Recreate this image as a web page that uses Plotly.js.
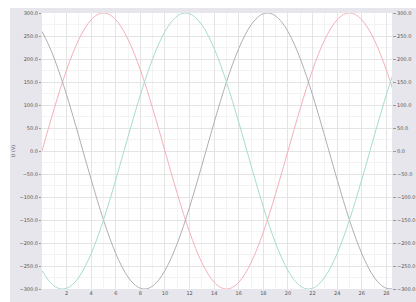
<!DOCTYPE html>
<html>
<head>
<meta charset="utf-8">
<script src="https://cdn.plot.ly/plotly-3.0.1.min.js"></script>
<style>
html,body{margin:0;padding:0;background:#ffffff;width:416px;height:302px;overflow:hidden;}
#chart{position:absolute;left:10px;top:8px;width:406px;height:294px;}
</style>
</head>
<body>
<div id="chart"></div>
<script>
// time in ms, sampled every 0.5 ms
const timeMs = [0,0.5,1,1.5,2,2.5,3,3.5,4,4.5,5,5.5,6,6.5,7,7.5,8,8.5,9,9.5,10,10.5,11,11.5,12,12.5,13,13.5,14,14.5,15,15.5,16,16.5,17,17.5,18,18.5,19,19.5,20,20.5,21,21.5,22,22.5,23,23.5,24,24.5,25,25.5,26,26.5,27,27.5,28,28.5];
const phaseA = [0,46.9,92.7,136.2,176.3,212.1,242.7,267.3,285.3,296.3,300,296.3,285.3,267.3,242.7,212.1,176.3,136.2,92.7,46.9,0,-46.9,-92.7,-136.2,-176.3,-212.1,-242.7,-267.3,-285.3,-296.3,-300,-296.3,-285.3,-267.3,-242.7,-212.1,-176.3,-136.2,-92.7,-46.9,0,46.9,92.7,136.2,176.3,212.1,242.7,267.3,285.3,296.3,300,296.3,285.3,267.3,242.7,212.1,176.3,136.2];
const phaseB = [-259.8,-280.1,-293.4,-299.6,-298.4,-289.8,-274.1,-251.6,-222.9,-188.8,-150,-107.5,-62.4,-15.7,31.4,77.6,122.0,163.4,200.7,233.1,259.8,280.1,293.4,299.6,298.4,289.8,274.1,251.6,222.9,188.8,150,107.5,62.4,15.7,-31.4,-77.6,-122.0,-163.4,-200.7,-233.1,-259.8,-280.1,-293.4,-299.6,-298.4,-289.8,-274.1,-251.6,-222.9,-188.8,-150,-107.5,-62.4,-15.7,31.4,77.6,122.0,163.4];
const phaseC = [259.8,233.1,200.7,163.4,122.0,77.6,31.4,-15.7,-62.4,-107.5,-150,-188.8,-222.9,-251.6,-274.1,-289.8,-298.4,-299.6,-293.4,-280.1,-259.8,-233.1,-200.7,-163.4,-122.0,-77.6,-31.4,15.7,62.4,107.5,150,188.8,222.9,251.6,274.1,289.8,298.4,299.6,293.4,280.1,259.8,233.1,200.7,163.4,122.0,77.6,31.4,-15.7,-62.4,-107.5,-150,-188.8,-222.9,-251.6,-274.1,-289.8,-298.4,-299.6];
const seriesNames = ['A','B','C'];
const xTickVals = [2,4,6,8,10,12,14,16,18,20,22,24,26,28];
const yTitle = 'U (V)';

const tickFont = {family:'DejaVu Sans, sans-serif', size:5, color:'#555'};

const traces = [
  {x: timeMs, y: phaseA, name: seriesNames[0], mode:'lines', line:{color:'#f4b0b8', width:1, shape:'spline'}},
  {x: timeMs, y: phaseC, name: seriesNames[2], mode:'lines', line:{color:'#b0b0b4', width:1, shape:'spline'}},
  {x: timeMs, y: phaseB, name: seriesNames[1], mode:'lines', line:{color:'#a6ddcc', width:1, shape:'spline'}},
  {x: timeMs, y: phaseA, yaxis:'y2', mode:'lines', opacity:0, hoverinfo:'skip', showlegend:false, line:{width:0}}
];

const layout = {
  width: 406, height: 294,
  margin: {l:32, r:24, t:5, b:13, pad:0},
  paper_bgcolor: '#e6e6ec',
  plot_bgcolor: '#ffffff',
  showlegend: false,
  xaxis: {
    range: [0, 28.46], tickmode: 'array', tickvals: xTickVals,
    showgrid: true, gridcolor: '#e4e4e4', gridwidth: 1,
    minor: {dtick: 1, tick0: 0, showgrid: true, gridcolor: '#f3f3f3'},
    zeroline: false, showline: false,
    ticks: '', tickfont: tickFont, ticklen: 0,
    showticklabels: true
  },
  yaxis: {
    range: [-300, 300], dtick: 50, tick0: 0, tickformat: '.1f',
    showgrid: true, gridcolor: '#e4e4e4', gridwidth: 1,
    minor: {dtick: 25, showgrid: true, gridcolor: '#f3f3f3'},
    zeroline: false, showline: false,
    ticks: 'outside', ticklen: 2, tickcolor: '#999',
    tickfont: tickFont,
    title: {text: yTitle, font: {family:'DejaVu Sans, sans-serif', size:5, color:'#555'}, standoff: 6}
  },
  yaxis2: {
    overlaying: 'y', side: 'right',
    range: [-300, 300], dtick: 50, tick0: 0, tickformat: '.1f',
    showgrid: false, zeroline: false, showline: false,
    ticks: 'outside', ticklen: 3, tickcolor: '#999',
    tickfont: tickFont
  }
};

Plotly.newPlot('chart', traces, layout, {displayModeBar:false, staticPlot:true});
</script>
</body>
</html>
